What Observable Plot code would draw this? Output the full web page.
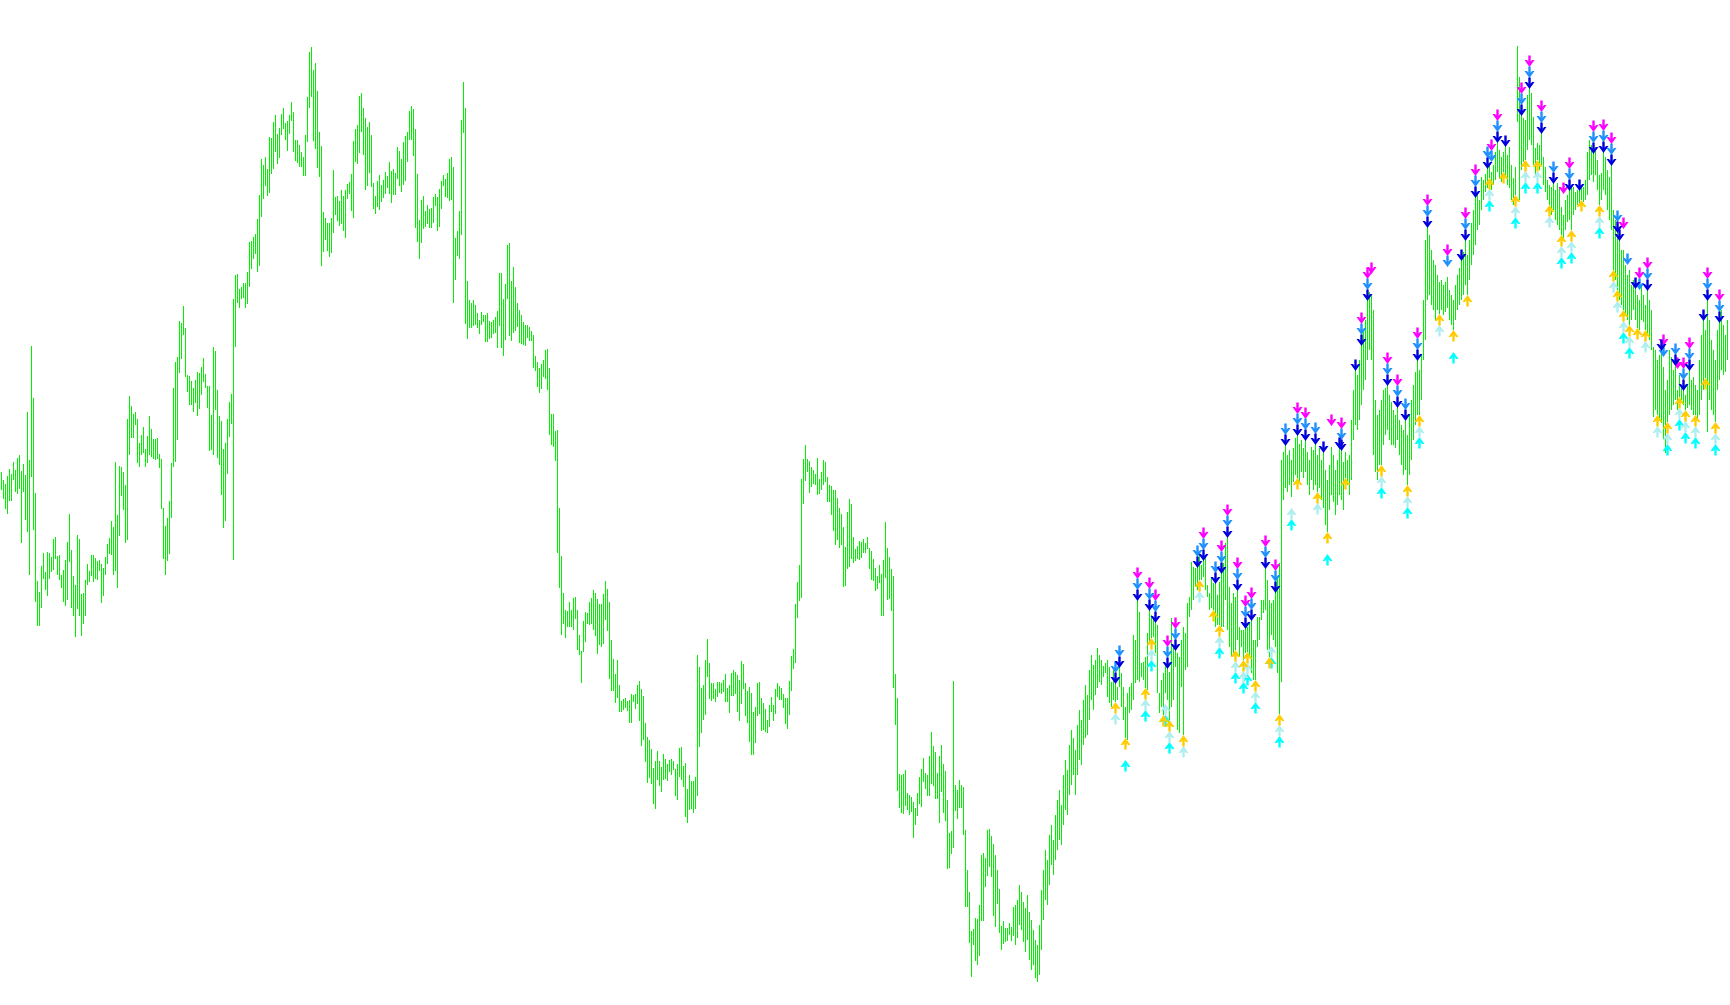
<!DOCTYPE html>
<html><head><meta charset="utf-8">
<script src="https://cdn.jsdelivr.net/npm/d3@7"></script>
<script src="https://cdn.jsdelivr.net/npm/@observablehq/plot@0.6"></script>
<style>html,body{margin:0;padding:0;background:#fff;overflow:hidden}</style>
</head><body><div id="chart"></div>
<script>
// bar highs / lows (price points), one entry per bar
const highs = [
528,520,516,524,531,526,538,530,542,545,529,536,525,588,540,654,602,507,419,408,
434,447,428,448,447,443,461,463,444,445,425,430,440,458,486,450,424,415,465,461,
406,407,420,436,429,445,445,442,439,440,436,432,443,456,462,479,473,538,485,534,
533,528,515,581,604,594,586,588,581,557,565,573,
551,564,584,571,561,561,562,546,541,492,474,482,499,537,612,638,643,679,677,694,
672,625,624,619,612,620,628,627,633,642,626,614,614,585,653,649,610,584,579,551,
557,581,598,606,701,725,726,711,713,717,717,728,758,759,763,766,781,805,841,835,
843,831,863,862,878,885,866,872,886,892,877,879,885,
898,888,860,860,855,848,843,865,903,948,953,930,937,909,868,854,788,782,777,777,
782,830,803,804,799,810,804,810,816,818,826,859,871,875,904,907,892,882,873,878,
865,817,804,819,825,815,820,828,824,838,829,831,827,853,849,841,858,864,868,889,
894,891,871,826,780,800,804,789,795,791,792,803,
806,803,811,819,825,821,827,841,843,833,762,769,789,880,918,892,719,700,697,700,
695,687,680,688,685,685,687,679,678,680,683,689,727,727,701,716,755,757,719,733,
713,697,690,685,678,675,675,673,669,665,644,638,632,636,640,650,651,632,586,586,
569,570,492,444,407,390,389,398,390,402,403,390,365,
349,379,388,387,398,402,410,407,401,396,396,406,419,411,398,360,341,326,340,315,
299,301,302,299,300,306,305,306,315,319,311,304,277,263,260,251,232,239,249,239,
233,246,241,236,240,241,239,231,236,252,253,234,237,211,225,219,219,223,345,333,
312,315,340,361,337,317,317,311,318,318,317,320,
326,312,315,327,330,328,325,320,339,336,317,309,313,307,288,293,317,318,302,297,
291,280,295,303,295,311,317,314,312,306,302,302,319,344,351,396,418,435,521,541,
555,541,539,533,530,526,542,521,528,540,538,523,515,514,510,510,502,492,486,473,
453,488,501,496,463,451,454,459,458,461,457,463,452,
449,441,432,424,435,426,440,478,452,443,431,424,326,302,226,225,226,230,207,205,
203,198,192,207,223,231,242,227,225,244,268,254,248,227,244,255,236,229,200,167,
169,319,215,210,220,215,213,170,130,108,69,71,82,81,95,145,147,142,170,171,
164,156,145,130,111,74,79,72,72,77,73,93,
95,100,115,108,98,92,105,88,80,70,60,55,75,110,130,150,140,165,175,160,
185,200,210,195,225,240,230,255,270,262,250,275,290,280,300,315,305,330,345,335,
340,352,345,
340,334,337,340,333,318,330,317,313,333,327,313,293,307,313,317,365,360,400,388,
337,338,343,367,390,385,382,378,375,307,320,327,337,332,328,382,353,350,347,343,
360,373,367,397,403,438,433,432,433,447,435,440,443,415,407,423,417,417,405,418,
427,437,457,463,413,397,407,403,410,373,370,370,372,373,377,380,360,360,383,383,
400,400,432,420,400,397,400,408,423,437,540,
548,555,545,550,540,552,562,565,556,
560,552,560,548,540,553,550,556,545,552,540,548,530,520,535,553,545,530,540,552,
550,538,548,540,545,580,610,630,625,640,655,668,680,700,708,705,690,600,585,590,
600,610,612,615,605,598,590,585,593,580,575,570,580,565,585,600,615,628,640,630,
645,700,760,773,765,750,740,735,725,718,720,715,718,723,710,705,700,715,725,732,
740,748,760,745,760,777,790,803,808,800,823,820,826,832,836,828,835,848,858,850,
843,848,854,845,853,835,822,833,954,923,885,882,880,905,912,907,883,852,857,855,
867,843,833,820,815,813,817,810,817,813,793,785,800,805,810,812,813,808,810,810,
812,813,820,848,860,855,847,853,840,825,827,848,843,830,823,835,790,780,768,760,
750,750,735,725,730,715,720,712,705,700,715,705,695,710,700,690,653,650,640,645,
650,633,610,620,650,643,630,635,610,625,615,610,605,615,630,620,623,615,610,640,
665,680,670,700,680,660,650,640,670,678,690,675,665,680
];
const lows = [
510,501,491,486,499,499,520,508,506,511,457,508,480,468,425,523,470,398,374,374,
392,421,410,404,421,428,430,441,425,420,412,398,394,400,438,392,384,363,391,384,
364,376,384,415,418,424,418,421,420,429,397,404,425,436,446,445,425,429,412,464,
504,490,457,460,545,562,562,575,537,533,545,547,
533,537,545,543,541,540,541,532,491,441,425,439,446,482,533,538,560,627,641,665,
623,608,595,595,588,597,584,591,605,618,612,592,549,550,545,590,542,535,505,472,
479,526,563,576,440,653,697,692,701,702,692,696,713,731,741,746,728,734,783,801,
814,804,807,826,831,848,836,842,865,871,860,849,866,
879,848,839,837,833,833,824,824,858,892,903,859,851,832,823,734,748,760,749,743,
747,767,785,779,774,776,769,762,801,806,789,782,838,836,847,868,845,810,814,827,
813,791,786,793,790,798,802,806,812,806,797,805,805,821,814,808,815,819,838,860,
860,844,772,758,741,757,771,773,776,772,772,777,
794,769,773,791,814,803,802,799,800,697,720,744,741,765,867,676,661,672,672,674,
675,672,666,675,678,658,658,661,662,666,667,652,674,652,644,660,701,664,659,667,
669,673,657,656,655,654,662,659,659,632,629,613,607,611,623,621,610,565,555,553,
539,447,412,365,376,362,373,373,373,370,381,350,345,
317,348,358,376,375,376,370,364,346,355,353,356,380,369,321,309,309,297,302,288,
288,290,292,289,277,277,298,291,296,279,254,260,238,217,222,216,196,191,220,214,
208,220,221,219,228,225,230,204,200,223,220,213,183,177,190,191,187,191,204,253,
267,280,285,323,301,299,301,298,303,307,306,308,
298,298,287,304,304,306,288,279,296,311,284,277,258,245,245,257,284,286,269,270,
268,267,273,288,279,286,303,300,300,292,276,271,285,309,331,337,382,399,402,496,
519,528,507,513,516,515,505,506,510,515,518,498,498,485,469,455,460,452,455,413,
414,431,433,441,437,439,441,440,442,447,447,451,431,
420,419,409,411,417,384,384,422,400,401,389,312,275,209,192,187,186,194,190,185,
188,162,175,184,196,193,218,211,204,204,216,214,201,201,177,208,187,179,131,132,
146,152,189,181,192,192,165,93,93,57,23,55,39,35,44,79,79,113,124,133,
123,84,73,96,67,50,56,58,59,65,59,64,
55,62,75,70,58,48,60,40,30,35,22,18,25,50,80,100,95,115,135,125,
140,150,160,155,175,190,185,205,215,225,205,225,240,235,255,262,265,280,300,290,
305,312,318,
315,323,327,303,297,293,300,298,300,313,293,280,262,260,287,290,300,317,320,318,
323,320,312,310,357,362,363,347,307,287,293,285,307,300,280,293,300,333,270,267,
313,265,330,333,383,390,400,413,410,420,420,423,410,403,390,392,390,373,375,375,
373,373,400,370,353,343,347,350,360,343,353,340,347,348,343,327,320,320,353,360,
380,387,390,350,343,365,360,353,327,286,318,
500,512,508,515,503,518,525,522,518,
528,522,528,515,505,520,510,515,508,512,500,492,475,468,490,505,498,485,495,505,
500,490,522,515,505,520,560,575,570,580,595,610,620,640,650,640,545,528,520,535,
535,555,565,570,560,555,555,552,560,545,535,525,530,515,525,540,560,575,585,585,
600,640,660,700,705,695,690,680,690,686,690,685,688,692,680,675,670,680,690,695,
700,705,715,705,720,735,745,755,770,775,790,800,808,812,822,810,815,820,828,822,
818,828,825,815,812,800,795,805,878,800,830,838,840,850,860,855,835,825,840,830,
835,815,808,800,795,785,790,780,775,770,765,760,770,778,780,770,785,790,795,795,
800,798,800,805,820,825,818,825,810,795,800,810,805,790,780,770,730,720,710,700,
695,690,685,680,675,680,690,680,672,670,680,678,670,665,660,650,583,590,585,580,
577,560,547,578,585,590,595,600,590,603,600,595,590,592,595,590,585,585,580,585,
600,610,622,568,600,590,585,578,610,620,630,625,628,640
];
// signal arrows: bar indices for each indicator
const sigDownMagenta = [568,574,577,583,587,601,610,613,618,622,625,632,637,648,652,665,670,680,683,685,693,698,708,713,723,732,737,745,748,760,764,770,781,784,796,801,805,811,819,823,831,838,841,844,853,859];
const sigDownDodger = [557,559,568,574,577,583,587,598,601,607,610,613,618,622,625,632,637,642,648,652,657,670,680,683,693,698,702,708,713,723,732,737,743,745,748,760,764,770,776,784,796,801,805,808,813,819,823,831,837,841,844,853,859];
const sigDownBlue = [557,559,568,574,577,583,587,598,601,607,610,613,618,622,625,632,637,642,648,652,657,661,669,670,677,680,683,693,698,702,708,713,730,732,737,743,748,752,760,764,770,776,784,789,796,801,805,808,809,817,823,830,837,841,844,851,853,859];
const sigUpGold = [557,562,572,575,581,584,591,599,606,609,617,621,623,627,634,639,648,658,663,672,690,703,709,719,726,733,744,751,757,762,768,774,780,785,790,799,806,808,811,814,818,822,828,833,839,842,847,852,857];
const sigUpPale = [557,572,575,582,584,591,599,609,617,621,623,627,635,639,645,658,690,703,709,719,744,757,762,768,774,780,785,799,806,808,811,814,822,828,833,839,842,847,857];
const sigUpCyan = [562,572,575,582,584,609,617,621,623,627,635,639,645,663,690,703,709,726,744,757,762,768,780,785,799,811,814,833,839,842,847,857];

const bars = highs.map((h, i) => ({i, high: h, low: lows[i]}));

const arrowDown = {draw(c) {
  c.moveTo(-1.2, -6); c.lineTo(1.2, -6); c.lineTo(1.2, 2.5); c.lineTo(-1.2, 2.5); c.closePath();
  c.moveTo(-5, -1.5); c.lineTo(-2.5, -1.5); c.lineTo(0, 1.8); c.lineTo(2.5, -1.5); c.lineTo(5, -1.5); c.lineTo(0, 5.5); c.closePath();
}};
const arrowUp = {draw(c) {
  c.moveTo(-1.2, 6); c.lineTo(-1.2, -2.5); c.lineTo(1.2, -2.5); c.lineTo(1.2, 6); c.closePath();
  c.moveTo(-5, 1.5); c.lineTo(0, -5.5); c.lineTo(5, 1.5); c.lineTo(2.5, 1.5); c.lineTo(0, -1.8); c.lineTo(-2.5, 1.5); c.closePath();
}};
const arrows = (idx, field, symbol, fill, dy) =>
  Plot.dot(idx.map(i => bars[i]), {x: "i", y: field, symbol, r: 5, fill, stroke: "none", dy});

const chart = Plot.plot({
  width: 1730, height: 1005, margin: 0,
  style: {background: "#ffffff"},
  x: {type: "linear", domain: [-0.5, 864.5], axis: null},
  y: {type: "linear", domain: [-5, 1000], axis: null},
  marks: [
    Plot.ruleX(bars, {x: "i", y1: "low", y2: "high", stroke: "#00f000", strokeWidth: 1, shapeRendering: "crispEdges"}),
    arrows(sigUpCyan, "low", arrowUp, "#00ffff", 27),
    arrows(sigUpPale, "low", arrowUp, "#afeeee", 16),
    arrows(sigUpGold, "low", arrowUp, "#ffcc00", 5),
    arrows(sigDownMagenta, "high", arrowDown, "#ff00ff", -27),
    arrows(sigDownDodger, "high", arrowDown, "#1e90ff", -16),
    arrows(sigDownBlue, "high", arrowDown, "#0000dd", -5)
  ]
});
document.getElementById("chart").appendChild(chart);
</script>
</body></html>
